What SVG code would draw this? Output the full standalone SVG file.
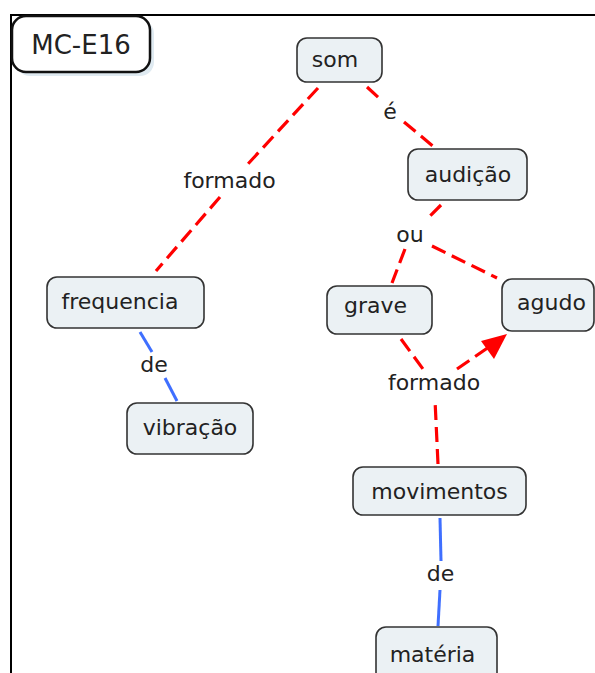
<svg xmlns="http://www.w3.org/2000/svg" width="595" height="673" viewBox="0 0 595 673">
<style>
.node rect{fill:#ebf1f4;stroke:#333;stroke-width:1.6}
.t{font-family:"DejaVu Sans",Verdana,sans-serif;font-size:22px;fill:#222;text-anchor:middle}
.red{stroke:#ff0000;stroke-width:3.2;stroke-dasharray:15 7;fill:none}
.blue{stroke:#3f6fff;stroke-width:3;fill:none}
</style>
<rect width="595" height="673" fill="#fff"/>
<g id="frame">
<line x1="10" y1="15" x2="595" y2="15" stroke="#000" stroke-width="2"/>
<line x1="11" y1="15" x2="11" y2="673" stroke="#000" stroke-width="2"/>
</g>
<g id="connectors">
<line class="red" x1="318" y1="88" x2="247" y2="165"/>
<line class="red" x1="220" y1="197" x2="156" y2="271"/>
<line class="red" x1="367" y1="87" x2="380" y2="99"/>
<line class="red" x1="404" y1="122" x2="434" y2="147"/>
<line class="red" x1="441" y1="205" x2="427" y2="219"/>
<line class="red" x1="405" y1="249" x2="392" y2="283"/>
<line class="red" x1="432" y1="246" x2="497" y2="278"/>
<line class="blue" x1="140" y1="332" x2="152" y2="352"/>
<line class="blue" x1="165" y1="378" x2="177" y2="401"/>
<line class="red" x1="401" y1="339" x2="423" y2="369"/>
<line class="red" x1="438" y1="464" x2="435" y2="400"/>
<line class="red" x1="457" y1="369" x2="489" y2="347"/>
<polygon points="507,334 481,341 494,359" fill="#ff0000"/>
<line class="blue" x1="440" y1="518" x2="441" y2="561"/>
<line class="blue" x1="440" y1="590" x2="438" y2="626"/>
</g>
<g id="label-formado1"><text class="t" x="229.5" y="188">formado</text></g>
<g id="label-e"><text class="t" x="390" y="119">é</text></g>
<g id="label-ou"><text class="t" x="410" y="242">ou</text></g>
<g id="label-de1"><text class="t" x="154" y="372">de</text></g>
<g id="label-formado2"><text class="t" x="434" y="390">formado</text></g>
<g id="label-de2"><text class="t" x="440.5" y="581">de</text></g>
<g id="n-mc">
<rect x="16" y="20" width="138" height="56" rx="14" fill="#dfeaf1"/>
<rect x="12" y="16" width="138" height="56" rx="14" fill="#fff" stroke="#111" stroke-width="2.5"/>
<text class="t" x="81" y="54" style="font-size:26px">MC-E16</text>
</g>
<g id="n-som" class="node"><rect x="297" y="38" width="85" height="44" rx="10"/><text class="t" x="335" y="67">som</text></g>
<g id="n-audicao" class="node"><rect x="408" y="149" width="119" height="51" rx="10"/><text class="t" x="468" y="182">audição</text></g>
<g id="n-frequencia" class="node"><rect x="47" y="277" width="157" height="51" rx="10"/><text class="t" x="120" y="309">frequencia</text></g>
<g id="n-grave" class="node"><rect x="327" y="286" width="105" height="48" rx="10"/><text class="t" x="375.5" y="313">grave</text></g>
<g id="n-agudo" class="node"><rect x="502" y="279" width="92" height="52" rx="10"/><text class="t" x="551.5" y="310">agudo</text></g>
<g id="n-vibracao" class="node"><rect x="127" y="403" width="126" height="51" rx="10"/><text class="t" x="190" y="435">vibração</text></g>
<g id="n-movimentos" class="node"><rect x="353" y="467" width="173" height="48" rx="10"/><text class="t" x="439.5" y="499">movimentos</text></g>
<g id="n-materia" class="node"><rect x="376" y="627" width="121" height="56" rx="10"/><text class="t" x="432.5" y="662">matéria</text></g>
</svg>
